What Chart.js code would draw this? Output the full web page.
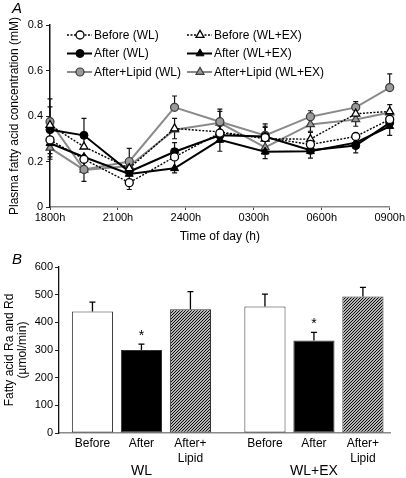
<!DOCTYPE html>
<html><head><meta charset="utf-8">
<script src="https://cdn.jsdelivr.net/npm/chart.js@4/dist/chart.umd.min.js"></script>
<style>
html,body{margin:0;padding:0;background:#fff;width:406px;height:478px;overflow:hidden}
#a{position:absolute;left:0;top:0}
#b{position:absolute;left:0;top:250px}
.pl{position:absolute;font:italic 15px/15px "Liberation Sans",Arial,sans-serif;color:#000}
</style></head><body>
<canvas id="a" width="406" height="250"></canvas>
<canvas id="b" width="406" height="228"></canvas>
<div class="pl" style="left:12px;top:0px">A</div>
<div class="pl" style="left:12px;top:251px">B</div>
<script>
// ---------- Panel A data ----------
const timeTickLabels = ['1800h','2100h','2400h','0300h','0600h','0900h'];
const sampleHours = [0, 1.5, 3.5, 5.5, 7.5, 9.5, 11.5, 13.5, 15]; // hours after 1800h
const seriesNames = ['Before (WL)','Before (WL+EX)','After (WL)','After (WL+EX)','After+Lipid (WL)','After+Lipid (WL+EX)'];
const beforeWL      = [0.295, 0.21, 0.107, 0.22, 0.325, 0.305, 0.275, 0.31, 0.385];
const beforeWLErr   = [0.06, 0.05, 0.03, 0.05, 0.04, 0.05, 0.04, 0.04, 0.04];
const beforeWLEX    = [0.36, 0.265, 0.17, 0.345, 0.33, 0.30, 0.298, 0.41, 0.42];
const beforeWLEXErr = [0.08, 0.04, 0.04, 0.045, 0.09, 0.055, 0.03, 0.03, 0.03];
const afterWL       = [0.34, 0.315, 0.155, 0.243, 0.315, 0.31, 0.25, 0.27, 0.37];
const afterWLErr    = [0.05, 0.075, 0.04, 0.04, 0.04, 0.04, 0.03, 0.03, 0.03];
const afterWLEX     = [0.28, 0.22, 0.145, 0.17, 0.295, 0.243, 0.245, 0.283, 0.355];
const afterWLEXErr  = [0.06, 0.05, 0.05, 0.02, 0.05, 0.03, 0.03, 0.045, 0.04];
const lipidWL       = [0.375, 0.165, 0.20, 0.438, 0.375, 0.315, 0.397, 0.438, 0.525];
const lipidWLErr    = [0.10, 0.03, 0.058, 0.05, 0.055, 0.05, 0.026, 0.025, 0.06];
const lipidWLEX     = [0.26, 0.163, 0.18, 0.34, 0.37, 0.262, 0.363, 0.385, 0.415];
const lipidWLEXErr  = [0.05, 0.05, 0.03, 0.04, 0.04, 0.03, 0.03, 0.03, 0.04];

// ---------- Panel B data ----------
const groups = ['WL', 'WL+EX'];
const conditionLabels = [['Before'], ['After'], ['After+', 'Lipid']];
const beforeRate = [439, 457];
const beforeRateErr = [34, 45];
const afterRate = [300, 334];
const afterRateErr = [21, 30];
const lipidRate = [447, 493];
const lipidRateErr = [64, 33];
const afterSignificant = [true, true];

Chart.defaults.font.family = '"Liberation Sans", Arial, sans-serif';
Chart.defaults.color = '#000';

const pts = arr => arr.map((v, i) => ({x: sampleHours[i], y: v}));

function lineDs(label, values, errs, dir, style) {
  return Object.assign({
    label, data: pts(values), errors: errs, errDir: dir,
    clip: false, tension: 0, fill: false
  }, style);
}

const dotted = {borderColor: '#000', borderWidth: 1.4, borderDash: [2, 1.5], pointBackgroundColor: '#fff', pointBorderColor: '#000', pointBorderWidth: 1.3};
const solidBlack = {borderColor: '#000', borderWidth: 2, pointBackgroundColor: '#000', pointBorderColor: '#000', pointBorderWidth: 1};
const solidGray = {borderColor: '#8a8a8a', borderWidth: 2, pointBackgroundColor: '#9a9a9a', pointBorderColor: '#3a3a3a', pointBorderWidth: 1.2};
const circ = {pointStyle: 'circle', pointRadius: 4, pointHoverRadius: 4};
const tri = {pointStyle: 'triangle', pointRadius: 4.6, pointHoverRadius: 4.6};

const dsA = [
  lineDs(seriesNames[0], beforeWL, beforeWLErr, -1, Object.assign({}, circ, dotted)),
  lineDs(seriesNames[1], beforeWLEX, beforeWLEXErr, 1, Object.assign({}, tri, dotted)),
  lineDs(seriesNames[2], afterWL, afterWLErr, 1, Object.assign({}, circ, solidBlack)),
  lineDs(seriesNames[3], afterWLEX, afterWLEXErr, -1, Object.assign({}, tri, solidBlack)),
  lineDs(seriesNames[4], lipidWL, lipidWLErr, 1, Object.assign({}, circ, solidGray)),
  lineDs(seriesNames[5], lipidWLEX, lipidWLEXErr, -1, Object.assign({}, tri, solidGray))
];

const errorBarsA = {
  id: 'errorBarsA',
  beforeDatasetsDraw(chart) {
    const ctx = chart.ctx, ys = chart.scales.y;
    ctx.save();
    chart.data.datasets.forEach((ds, di) => {
      const meta = chart.getDatasetMeta(di);
      ctx.strokeStyle = '#111'; ctx.lineWidth = 1.2; ctx.setLineDash([]);
      meta.data.forEach((pt, i) => {
        const v = ds.data[i].y + ds.errDir * ds.errors[i];
        const yy = ys.getPixelForValue(v);
        ctx.beginPath();
        ctx.moveTo(pt.x, pt.y); ctx.lineTo(pt.x, yy);
        ctx.moveTo(pt.x - 2.5, yy); ctx.lineTo(pt.x + 2.5, yy);
        ctx.stroke();
      });
    });
    ctx.restore();
  }
};

const legendA = {
  id: 'legendA',
  afterDraw(chart) {
    const ctx = chart.ctx;
    ctx.save();
    chart.data.datasets.forEach((ds, i) => {
      const row = Math.floor(i / 2), col = i % 2;
      const x0 = col === 0 ? 67 : 187;
      const y = 35 + row * 18.5;
      ctx.strokeStyle = ds.borderColor; ctx.lineWidth = ds.borderWidth;
      ctx.setLineDash(ds.borderDash || []);
      ctx.beginPath(); ctx.moveTo(x0, y); ctx.lineTo(x0 + 25, y); ctx.stroke();
      ctx.setLineDash([]);
      ctx.fillStyle = ds.pointBackgroundColor; ctx.strokeStyle = ds.pointBorderColor;
      ctx.lineWidth = ds.pointBorderWidth;
      Chart.helpers.drawPoint(ctx, {pointStyle: ds.pointStyle, radius: ds.pointRadius, rotation: 0, borderWidth: ds.pointBorderWidth}, x0 + 13, y);
      ctx.fillStyle = '#000';
      ctx.font = '12px "Liberation Sans", Arial, sans-serif';
      ctx.textBaseline = 'middle'; ctx.textAlign = 'left';
      ctx.fillText(ds.label, x0 + 27, y + 0.5);
    });
    ctx.restore();
  }
};

new Chart(document.getElementById('a'), {
  type: 'line',
  data: {datasets: dsA},
  options: {
    responsive: false, animation: false, devicePixelRatio: 1,
    layout: {padding: {top: 25, right: 16, left: 0, bottom: 0}},
    plugins: {legend: {display: false}, tooltip: {enabled: false}},
    scales: {
      x: {
        type: 'linear', min: 0, max: 15,
        afterBuildTicks: s => { s.ticks = timeTickLabels.map((t, i) => ({value: i * 3})); },
        afterFit: s => { s.height = 43; },
        ticks: {font: {size: 11}, padding: 1, maxRotation: 0, callback: v => timeTickLabels[Math.round(v / 3)]},
        grid: {drawOnChartArea: false, drawTicks: true, tickLength: 3, color: '#444'},
        border: {color: '#8a8a8a', width: 1.5},
        title: {display: true, text: 'Time of day (h)', font: {size: 12}, padding: {top: 0, bottom: 6}}
      },
      y: {
        min: 0, max: 0.8,
        afterFit: s => { s.width = 50; },
        ticks: {stepSize: 0.2, font: {size: 11}, padding: 3},
        grid: {drawOnChartArea: false, drawTicks: true, tickLength: 4, color: '#222'},
        border: {color: '#111', width: 1.5},
        title: {display: true, text: 'Plasma fatty acid concentration (mM)', font: {size: 12}, padding: {top: 7, bottom: 0}}
      }
    }
  },
  plugins: [errorBarsA, legendA]
});

// ---------- Panel B ----------
function hatchPattern() {
  const c = document.createElement('canvas');
  c.width = 3; c.height = 3;
  const g = c.getContext('2d');
  g.fillStyle = '#fff'; g.fillRect(0, 0, 3, 3);
  g.strokeStyle = '#000'; g.lineWidth = 1.1;
  g.beginPath();
  g.moveTo(-1, 4); g.lineTo(4, -1);
  g.moveTo(-1, 1); g.lineTo(1, -1);
  g.moveTo(2, 4); g.lineTo(4, 2);
  g.stroke();
  return document.getElementById('b').getContext('2d').createPattern(c, 'repeat');
}

const toXY = arr => arr.map((v, i) => ({x: i, y: v}));
const barCommon = {borderColor: '#333', borderWidth: 1, borderSkipped: false, barPercentage: 0.84, categoryPercentage: 0.852};

const dsB = [
  Object.assign({label: 'Before', data: toXY(beforeRate), errors: beforeRateErr, backgroundColor: '#fff'}, barCommon),
  Object.assign({label: 'After', data: toXY(afterRate), errors: afterRateErr, backgroundColor: '#000', stars: afterSignificant}, barCommon),
  Object.assign({label: 'After+Lipid', data: toXY(lipidRate), errors: lipidRateErr, backgroundColor: hatchPattern()}, barCommon)
];

const barExtras = {
  id: 'barExtras',
  afterDatasetsDraw(chart) {
    const ctx = chart.ctx, ys = chart.scales.y, area = chart.chartArea;
    ctx.save();
    chart.data.datasets.forEach((ds, di) => {
      const meta = chart.getDatasetMeta(di);
      meta.data.forEach((bar, i) => {
        const capY = ys.getPixelForValue(ds.data[i].y + ds.errors[i]);
        ctx.strokeStyle = '#000'; ctx.lineWidth = 1.3;
        ctx.beginPath();
        ctx.moveTo(bar.x, bar.y); ctx.lineTo(bar.x, capY);
        ctx.moveTo(bar.x - 3, capY); ctx.lineTo(bar.x + 3, capY);
        ctx.stroke();
        if (ds.stars && ds.stars[i]) {
          ctx.fillStyle = '#000';
          ctx.font = '14px "Liberation Sans", Arial, sans-serif';
          ctx.textAlign = 'center'; ctx.textBaseline = 'alphabetic';
          ctx.fillText('*', bar.x, capY - 4);
        }
        ctx.fillStyle = '#000';
        ctx.font = '12px "Liberation Sans", Arial, sans-serif';
        ctx.textAlign = 'center'; ctx.textBaseline = 'middle';
        conditionLabels[di].forEach((t, k) => ctx.fillText(t, bar.x, area.bottom + 11 + k * 14.4));
      });
    });
    ctx.restore();
  }
};

new Chart(document.getElementById('b'), {
  type: 'bar',
  data: {datasets: dsB},
  options: {
    responsive: false, animation: false, devicePixelRatio: 1,
    layout: {padding: {top: 17, right: 16, left: 0, bottom: 0}},
    plugins: {legend: {display: false}, tooltip: {enabled: false}},
    scales: {
      x: {
        type: 'linear', min: -0.478, max: 1.441, offset: false,
        afterBuildTicks: s => { s.ticks = groups.map((g, i) => ({value: i})); },
        afterFit: s => { s.height = 45; },
        ticks: {font: {size: 14}, padding: 30, maxRotation: 0, callback: v => groups[v]},
        grid: {display: true, offset: false, drawOnChartArea: false, drawTicks: false},
        border: {color: '#8a8a8a', width: 1.5}
      },
      y: {
        min: 0, max: 600,
        afterFit: s => { s.width = 59; },
        ticks: {stepSize: 100, font: {size: 11}, padding: 2},
        grid: {drawOnChartArea: false, drawTicks: true, tickLength: 4, color: '#222'},
        border: {color: '#111', width: 1.3},
        title: {display: true, text: ['Fatty acid Ra and Rd', '(\u00b5mol/min)'], font: {size: 12, lineHeight: 1.1}, padding: {top: 3, bottom: 0}}
      }
    }
  },
  plugins: [barExtras]
});
</script>
</body></html>
